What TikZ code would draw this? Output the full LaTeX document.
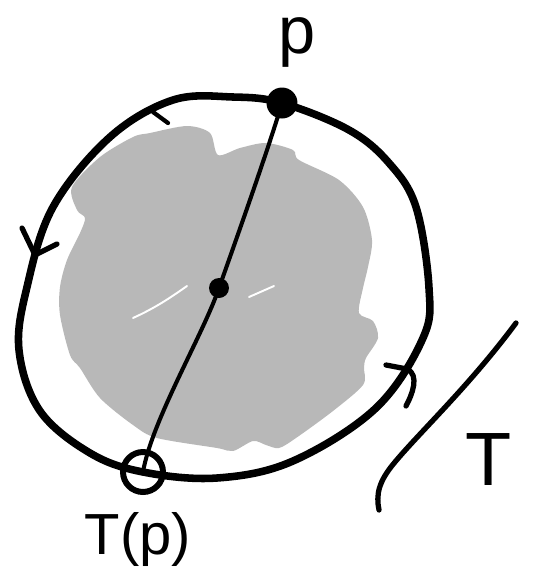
\documentclass[tikz,border=0pt]{standalone}
\usepackage{fontspec}
\setsansfont{Liberation Sans}
\definecolor{blobgrey}{RGB}{184,184,184}
\tikzset{
    curve/.style={
        line width=4.3pt,
        line join=round
    },
    blob/.style={
        fill=blobgrey,
        draw=none
    },
    streak/.style={
        white,
        line width=1.1pt,
        line cap=round
    },
    chord/.style={
        line width=2.3pt,
        line cap=round
    },
    barb/.style={
        line width=3pt,
        line cap=round,
        line join=round
    },
    tline/.style={
        line width=3pt,
        line cap=round
    },
    pointdot/.style={
        circle,
        fill=black,
        inner sep=0pt,
        minimum size=0.62cm
    },
    centerdot/.style={
        circle,
        fill=black,
        inner sep=0pt,
        minimum size=0.4cm
    },
    imagecircle/.style={
        circle,
        draw,
        line width=3.4pt,
        inner sep=0pt,
        minimum size=0.8cm
    },
    handlabel/.style={
        inner sep=0pt
    }
}

\begin{document}
\begin{tikzpicture}[x=0.02cm, y=-0.02cm]
\useasboundingbox (0,0) rectangle (532,576);

% grey region
\fill[blob] plot[smooth cycle, tension=0.5] coordinates {
    (72,187) (100,157) (133,137) (150,133) (187,126) (210,133) (218,155)
    (240,148) (266,143) (293,150) (299,160) (339,180) (363,207) (372,240)
    (368,267) (363,288) (359,313) (373,321) (378,338) (366,358) (364,368)
    (363,385) (333,411) (296,438) (279,448) (266,445) (253,441) (233,451)
    (217,448) (157,438) (133,425) (100,398) (80,368) (70,355) (60,315)
    (60,287) (67,260) (80,233) (85,218) (77,210)};

\draw[streak] (133,318) .. controls (155,308) and (170,298) .. (187,286);
\draw[streak] (249,297) -- (274,286);

% closed curve
\draw[curve] plot[smooth cycle, tension=0.6] coordinates {
    (282,103) (233,97) (173,100) (110,137) (53,207) (27,287) (19,350)
    (40,411) (90,453) (143,472) (217,478) (293,461) (376,408) (423,338)
    (429,288) (416,207) (389,163) (349,130)};

% direction marks
\draw[barb, line width=2.4pt] (153,112) -- (168,123);
\draw[barb] (22,228) -- (35,255) -- (57,244);
\draw[barb] (386,365) -- (407,369) .. controls (420,375) and (412,395) .. (406,406);

% points
\node[pointdot] (p) at (282,103) {};
\node[centerdot] (c) at (219,288) {};
\node[imagecircle] (tp) at (143,472) {};

\draw[chord] (p.center) .. controls (268,150) and (236,240) .. (c.center)
    .. controls (203,335) and (152,420) .. (tp.center);

% labels
\node[handlabel, font=\sffamily\fontsize{38}{38}\selectfont] (plabel) at (297,42) {p};
\node[handlabel, font=\sffamily\fontsize{33}{33}\selectfont] (tplabel) at (138,540) {T(p)};
\node[handlabel, font=\sffamily\fontsize{43}{43}\selectfont] (tlabel) at (489,460) {T};

% the map T
\draw[tline] (516,323) .. controls (470,385) and (420,432) .. (395,462)
    .. controls (378,482) and (376,495) .. (379,510);

\end{tikzpicture}
\end{document}
